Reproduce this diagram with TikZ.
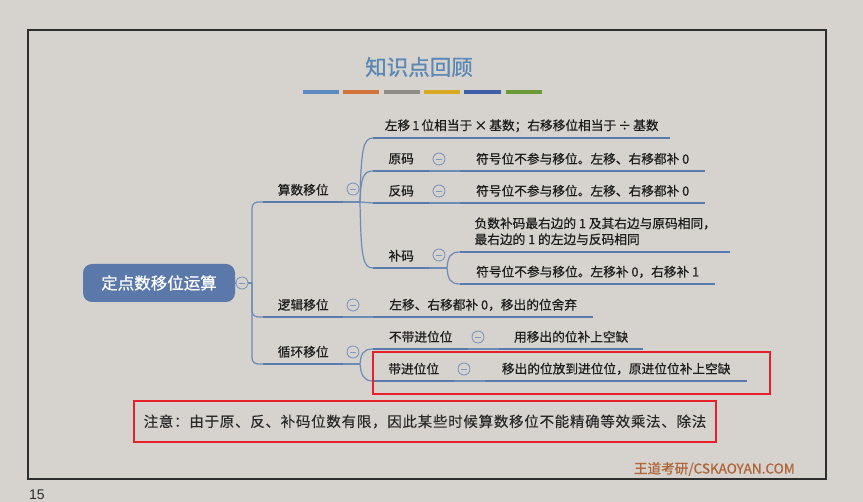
\documentclass[tikz,border=0pt]{standalone}
\usepackage{fontspec}
\setmainfont{Liberation Sans}
\newfontfamily\cjk[FakeBold=0.6]{Noto Sans CJK SC}
\newfontfamily\cjktitle[FakeBold=1.0]{Noto Sans CJK SC}
\newfontfamily\cjknote[LetterSpace=5,FakeBold=0.2]{Noto Sans CJK SC}
\definecolor{bgc}{HTML}{D6D3CE}
\definecolor{framec}{HTML}{2E2E2E}
\definecolor{rootc}{HTML}{5A79AA}
\definecolor{ulc}{HTML}{5A7BAD}
\definecolor{cnc}{HTML}{6D8BB7}
\definecolor{foldc}{HTML}{7F98BD}
\definecolor{txtc}{HTML}{1E1E1E}
\definecolor{notec}{HTML}{2A2A2A}
\definecolor{titlec}{HTML}{5B88B5}
\definecolor{redc}{HTML}{E8202A}
\definecolor{wmc}{HTML}{B0653A}
\definecolor{barA}{HTML}{5B8BC0}
\definecolor{barB}{HTML}{D2743A}
\definecolor{barC}{HTML}{8E8B87}
\definecolor{barD}{HTML}{D8A823}
\definecolor{barE}{HTML}{3B5EA6}
\definecolor{barF}{HTML}{6A9A3A}
\begin{document}
\begin{tikzpicture}[x=1pt,y=-1pt,
  uline/.style={draw=ulc, line width=2.8pt},
  conn/.style={draw=cnc, line width=1.2pt},
  tnode/.style={anchor=south west, inner sep=0pt, minimum height=24pt,
    font=\cjk\fontsize{12.7}{16}\selectfont, text=txtc},
  fold/.style={circle, draw=foldc, line width=0.9pt, fill=bgc, minimum size=12pt, inner sep=0pt,
    path picture={\draw[foldc, line width=0.9pt]
      ([xshift=-3pt]path picture bounding box.center) -- ([xshift=3pt]path picture bounding box.center);}},
  bar/.style={line width=4pt},
  redbox/.style={draw=redc, line width=2pt}
]
\path[use as bounding box, fill=bgc] (0,0) rectangle (863,502);
\draw[framec, line width=1.5pt] (28,30) rectangle (826,479);

% title and bars
\node[text=titlec, font=\cjktitle\fontsize{21.5}{24}\selectfont] (title) at (419,67) {知识点回顾};
\draw[bar, barA] (303,92) -- (339,92);
\draw[bar, barB] (343,92) -- (379,92);
\draw[bar, barC] (384,92) -- (420,92);
\draw[bar, barD] (424,92) -- (460,92);
\draw[bar, barE] (464,92) -- (501,92);
\draw[bar, barF] (506,92) -- (542,92);

% root
\node[fill=rootc, rounded corners=9pt, minimum width=152pt, minimum height=38pt, inner sep=0pt,
  text=white, font=\cjk\fontsize{16.5}{20}\selectfont] (root) at (159,283) {定点数移位运算};
\node[fold] (f0) at (242,283) {};
\draw[conn] (root.east) -- (f0.west);

% level 1
\node[tnode, minimum width=80pt] (a) at (263,202) {算数移位};
\node[tnode, minimum width=80pt] (b) at (263,317) {逻辑移位};
\node[tnode, minimum width=80pt] (c) at (263,364) {循环移位};
\coordinate (tr) at (252,283);
\draw[conn] (f0.east) -- (tr);
\draw[conn, rounded corners=6pt] (tr) |- (a.south west);
\draw[conn, rounded corners=6pt] (tr) |- (b.south west);
\draw[conn, rounded corners=6pt] (tr) |- (c.south west);
\foreach \n in {a,b,c} \draw[uline] (\n.south west) -- (\n.south east);
\node[fold] (fa) at (353,189) {};
\node[fold] (fb) at (353,305) {};
\node[fold] (fcc) at (353,352) {};

% arithmetic shift
\coordinate (pa) at (360,202);
\draw[conn] (a.south east) -- (pa);
\node[tnode, minimum width=297pt] (a1) at (373,138) {左移\,1\,位相当于\,×\,基数；右移移位相当于\,÷\,基数};
\node[tnode, minimum width=56pt] (a2) at (373,171) {原码};
\node[tnode, minimum width=56pt] (a3) at (373,203) {反码};
\node[tnode, minimum width=56pt] (a4) at (373,268) {补码};
\draw[conn] (pa) .. controls (361,150) and (363,138) .. (a1.south west);
\draw[conn] (pa) .. controls (361,178) and (363,171) .. (a2.south west);
\draw[conn] (pa) -- (a3.south west);
\draw[conn] (pa) .. controls (361,258) and (363,268) .. (a4.south west);
\foreach \n in {a1,a2,a3,a4} \draw[uline] (\n.south west) -- (\n.south east);
\node[fold] (fa2) at (439,159) {};
\node[fold] (fa3) at (439,191) {};
\node[fold] (fa4) at (439,255) {};
\node[tnode, minimum width=245pt] (a2x) at (460,171) {符号位不参与移位。左移、右移都补 0};
\node[tnode, minimum width=245pt] (a3x) at (460,203) {符号位不参与移位。左移、右移都补 0};
\node[tnode, minimum width=270pt, minimum height=41pt, align=left] (a4x) at (460,252)
  {负数补码最右边的 1 及其右边与原码相同，\\最右边的 1 的左边与反码相同};
\node[tnode, minimum width=255pt] (a4y) at (460,284) {符号位不参与移位。左移补 0，右移补 1};
\draw[conn] (a2.south east) -- (a2x.south west);
\draw[conn] (a3.south east) -- (a3x.south west);
\coordinate (pa4) at (447,268);
\draw[conn] (a4.south east) -- (pa4);
\draw[conn] (pa4) .. controls (448,257) and (450,252) .. (a4x.south west);
\draw[conn] (pa4) .. controls (448,279) and (450,284) .. (a4y.south west);
\foreach \n in {a2x,a3x,a4x,a4y} \draw[uline] (\n.south west) -- (\n.south east);

% logical shift
\node[tnode, minimum width=220pt] (b1) at (373,317) {左移、右移都补 0，移出的位舍弃};
\draw[conn] (b.south east) -- (b1.south west);
\draw[uline] (b1.south west) -- (b1.south east);

% rotate shift
\coordinate (pc) at (360,364);
\draw[conn] (c.south east) -- (pc);
\node[tnode, minimum width=95pt] (c1) at (373,349) {不带进位位};
\node[tnode, minimum width=81pt] (c2) at (373,381) {带进位位};
\draw[conn] (pc) .. controls (361,354) and (363,349) .. (c1.south west);
\draw[conn] (pc) .. controls (361,374) and (363,381) .. (c2.south west);
\node[fold] (fc1) at (478,337) {};
\node[fold] (fc2) at (464,369) {};
\node[tnode, minimum width=144pt] (c1x) at (499,349) {用移出的位补上空缺};
\node[tnode, minimum width=262pt] (c2x) at (485,381) {移出的位放到进位位，原进位位补上空缺};
\draw[conn] (c1.south east) -- (c1x.south west);
\draw[conn] (c2.south east) -- (c2x.south west);
\foreach \n in {c1,c2,c1x,c2x} \draw[uline] (\n.south west) -- (\n.south east);

% red boxes and note
\draw[redbox] (373,352) rectangle (770,394);
\node[redbox, minimum width=582pt, minimum height=41pt, inner sep=0pt, text=notec,
  font=\cjknote\fontsize{14.5}{18}\selectfont] (note) at (425,421.5)
  {注意：由于原、反、补码位数有限，因此某些时候算数移位不能精确等效乘法、除法};

% watermark and page number
\node[anchor=east, inner sep=0pt, text=wmc, font=\cjk\fontsize{13.6}{15}\selectfont] (wm) at (795,469) {王道考研/CSKAOYAN.COM};
\node[inner sep=0pt, text=framec, font=\fontsize{14}{16}\selectfont] (pg) at (37,495) {15};
\end{tikzpicture}
\end{document}
